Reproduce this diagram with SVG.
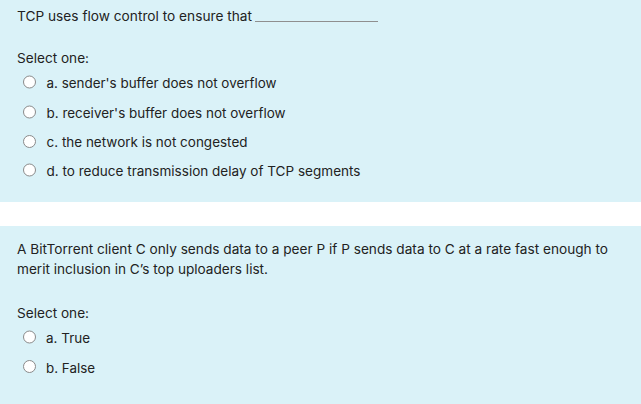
<svg xmlns="http://www.w3.org/2000/svg" width="641" height="404" viewBox="0 0 641 404">
<style>
.bg{fill:#daf2f8}
.t{font-family:"Inter","Liberation Sans",sans-serif;font-size:13px;fill:#222}
.r{fill:#fff;stroke:#8a8a8a;stroke-width:1}
</style>
<rect x="0" y="0" width="641" height="404" fill="#ffffff"/>
<g id="q1">
<rect class="bg" x="0" y="0" width="641" height="202"/>
<text class="t" x="17" y="21" textLength="235" lengthAdjust="spacingAndGlyphs">TCP uses flow control to ensure that</text>
<line x1="255" y1="21.5" x2="378" y2="21.5" stroke="#8f8f8f" stroke-width="1"/>
<text class="t" x="17" y="63" textLength="72" lengthAdjust="spacingAndGlyphs">Select one:</text>
<g id="q1a"><circle class="r" cx="29.5" cy="82" r="6"/><text class="t" x="46.5" y="88" textLength="230" lengthAdjust="spacingAndGlyphs">a. sender's buffer does not overflow</text></g>
<g id="q1b"><circle class="r" cx="29.5" cy="112" r="6"/><text class="t" x="46.5" y="118" textLength="239" lengthAdjust="spacingAndGlyphs">b. receiver's buffer does not overflow</text></g>
<g id="q1c"><circle class="r" cx="29.5" cy="141.5" r="6"/><text class="t" x="46.5" y="147" textLength="201" lengthAdjust="spacingAndGlyphs">c. the network is not congested</text></g>
<g id="q1d"><circle class="r" cx="29.5" cy="170" r="6"/><text class="t" x="46.5" y="176" textLength="314" lengthAdjust="spacingAndGlyphs">d. to reduce transmission delay of TCP segments</text></g>
</g>
<g id="q2">
<rect class="bg" x="0" y="226" width="641" height="178"/>
<text class="t" x="17" y="253.5" textLength="591" lengthAdjust="spacingAndGlyphs">A BitTorrent client C only sends data to a peer P if P sends data to C at a rate fast enough to</text>
<text class="t" x="17" y="274" textLength="251" lengthAdjust="spacingAndGlyphs">merit inclusion in C’s top uploaders list.</text>
<text class="t" x="17" y="318" textLength="72" lengthAdjust="spacingAndGlyphs">Select one:</text>
<g id="q2a"><circle class="r" cx="29.5" cy="337" r="6"/><text class="t" x="46" y="343" textLength="44" lengthAdjust="spacingAndGlyphs">a. True</text></g>
<g id="q2b"><circle class="r" cx="29.5" cy="366.5" r="6"/><text class="t" x="46" y="372.5" textLength="49" lengthAdjust="spacingAndGlyphs">b. False</text></g>
</g>
<g id="connectors"/>
</svg>
